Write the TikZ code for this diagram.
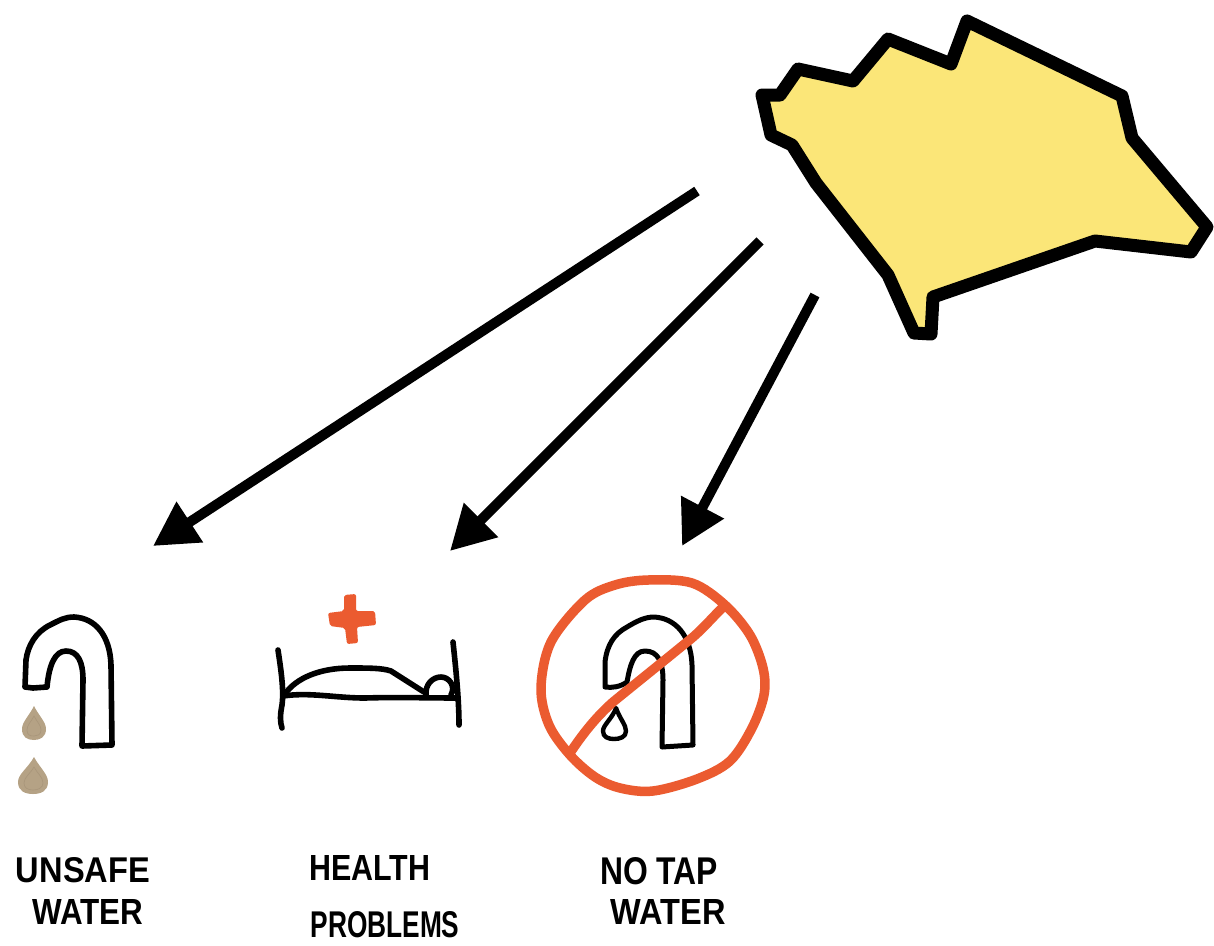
\documentclass[tikz,border=0pt]{standalone}
\usepackage{fontspec}
\setmainfont{Liberation Sans}
\usetikzlibrary{arrows.meta}
\definecolor{blobfill}{HTML}{FBE678}
\definecolor{redorange}{HTML}{EB5B30}
\definecolor{muddy}{HTML}{B5A285}
\definecolor{muddyline}{HTML}{A8957A}
\newcommand{\handtext}[3]{\resizebox{#1pt}{#2pt}{\bfseries #3}}
\tikzset{
  x=1pt,y=-1pt,
  blob/.style={draw=black,fill=blobfill,line width=13pt,line join=round},
  pointer/.style={draw=black,line width=10pt,-{Triangle[length=44pt,width=46pt]}},
  ink/.style={draw=black,line width=5.6pt,line join=round,line cap=round},
  redink/.style={draw=redorange,line width=9.5pt,line join=round,line cap=round},
  drop/.style={fill=muddy,draw=none},
  dropinner/.style={draw=muddyline,line width=.6pt},
  handlabel/.style={inner sep=0pt,outer sep=0pt,text=black}
}
\begin{document}
\begin{tikzpicture}
\useasboundingbox (0,0) rectangle (1214,945);
% region
\path[blob] (762,95) -- (780,95) -- (798,69) -- (853,81) -- (888,39) -- (951,64) -- (967,21) -- (1122,96) -- (1132,138) -- (1207,227) -- (1191,252) -- (1095,241) -- (933,297) -- (931,334) -- (914,333) -- (888,275) -- (816,183) -- (792,145) -- (771,135) -- cycle;
% arrows
\coordinate (a1s) at (697,191); \coordinate (a1e) at (153,546);
\coordinate (a2s) at (760,241); \coordinate (a2e) at (450,551);
\coordinate (a3s) at (815,295); \coordinate (a3e) at (682,546);
\draw[pointer] (a1s) -- (a1e);
\draw[pointer] (a2s) -- (a2e);
\draw[pointer] (a3s) -- (a3e);
% unsafe tap
\draw[ink] (25,687) -- (26,660) .. controls (28,645) and (36,632) .. (50,625) .. controls (60,620) and (65,617) .. (74,617) .. controls (95,618) and (110,635) .. (111,665) -- (112,745) -- (82,746) -- (83,680) .. controls (83,662) and (78,651) .. (66,651) .. controls (55,651) and (49,665) .. (47,687) -- (33,688) -- cycle;
\path[drop] (34,706) .. controls (39,716) and (46,722) .. (46,729) .. controls (46,737) and (40,740) .. (34,740) .. controls (27,740) and (22,737) .. (22,729) .. controls (22,722) and (29,716) .. (34,706) -- cycle;
\path[dropinner] (34,716) .. controls (37,722) and (41,725) .. (41,730) .. controls (41,735) and (37,736) .. (34,736) .. controls (30,736) and (27,735) .. (27,730) .. controls (27,725) and (31,722) .. (34,716) -- cycle;
\path[drop] (34,757) .. controls (40,768) and (48,774) .. (48,782) .. controls (48,791) and (41,794) .. (33,794) .. controls (25,794) and (18,791) .. (18,782) .. controls (18,774) and (28,768) .. (34,757) -- cycle;
\path[dropinner] (34,767) .. controls (37,773) and (43,777) .. (43,783) .. controls (43,788) and (38,790) .. (33,790) .. controls (28,790) and (24,788) .. (24,783) .. controls (24,777) and (31,773) .. (34,767) -- cycle;
% cross
\path[fill=redorange,rounded corners=2pt] (344,595) -- (356,594) -- (356,611) -- (375,611) -- (376,625) -- (357,627) -- (358,643) -- (347,644) -- (345,628) -- (330,626) -- (328,613) -- (344,611) -- cycle;
% bed
\draw[ink] (278,650) .. controls (281,670) and (284,690) .. (282,705) .. controls (280,715) and (280,722) .. (282,728);
\draw[ink] (453,642) .. controls (456,670) and (459,700) .. (459,725);
\draw[ink] (283,696) .. controls (310,692) and (335,698) .. (365,698) .. controls (395,697) and (430,698) .. (457,698);
\draw[ink] (285,694) .. controls (296,678) and (320,668) .. (350,668) .. controls (370,668) and (382,668) .. (391,671) -- (424,692);
\draw[ink] (426,695) .. controls (425,684) and (433,677) .. (441,677) .. controls (449,677) and (456,686) .. (451,695);
% no tap
\draw[ink,line width=5pt] (605,687) -- (605,662) .. controls (607,645) and (614,634) .. (627,627) .. controls (637,621) and (645,617) .. (654,617) .. controls (675,618) and (691,635) .. (692,665) -- (693,745) -- (662,747) -- (663,680) .. controls (663,662) and (658,651) .. (645,651) .. controls (634,651) and (630,665) .. (627,682) .. controls (620,687) and (612,688) .. (605,687) -- cycle;
\draw[ink,line width=4.4pt] (616,708) .. controls (620,719) and (626,725) .. (626,731) .. controls (626,737) and (620,739) .. (614,739) .. controls (608,739) and (603,737) .. (603,731) .. controls (603,725) and (612,719) .. (616,708) -- cycle;
\draw[redink] plot[smooth cycle,tension=.55] coordinates {(648,580) (692,583) (725,605) (750,635) (763,668) (764,695) (752,728) (730,761) (697,779) (653,791) (620,788) (595,777) (570,755) (549,725) (541,688) (551,642) (585,600) (615,585)};
\draw[redink] (723,607) .. controls (710,620) and (700,632) .. (687,642) .. controls (665,660) and (640,680) .. (613,702) .. controls (595,718) and (582,735) .. (570,753);
% labels
\node[handlabel] (unsafe) at (83,870) {\handtext{134}{25}{UNSAFE}};
\node[handlabel] (water1) at (88,912) {\handtext{111}{25}{WATER}};
\node[handlabel] (health) at (370,868) {\handtext{121}{25}{HEALTH}};
\node[handlabel] (problems) at (385,925) {\handtext{149}{26}{PROBLEMS}};
\node[handlabel] (notap) at (659,871) {\handtext{118}{27}{NO TAP}};
\node[handlabel] (water2) at (668,912) {\handtext{115}{25}{WATER}};
\end{tikzpicture}
\end{document}
